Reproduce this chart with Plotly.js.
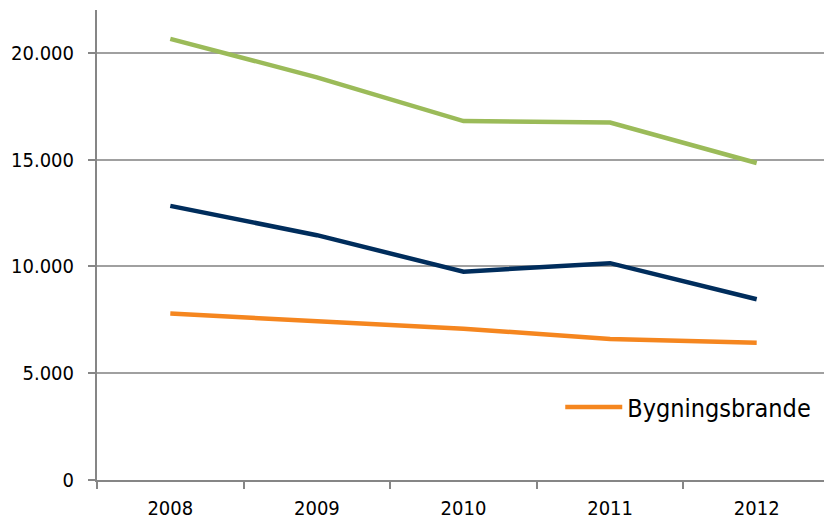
<!DOCTYPE html>
<html>
<head>
<meta charset="utf-8">
<script src="https://cdn.plot.ly/plotly-3.0.1.min.js"></script>
<style>
  html, body { margin: 0; padding: 0; background: #ffffff; overflow: hidden; }
  #chart { width: 832px; height: 519px; }
</style>
</head>
<body>
<div id="chart"></div>
<script>
// Years on the category axis
const years = ['2008', '2009', '2010', '2011', '2012'];

// Yearly counts per series
const seriesGreen = [20650, 18850, 16800, 16730, 14840];
const seriesNavy = [12830, 11460, 9750, 10150, 8460];
const bygningsbrande = [7790, 7410, 7080, 6600, 6420];

// Y axis tick values
const yTicks = [0, 5000, 10000, 15000, 20000];

const FONT = "'DejaVu Sans Condensed', 'DejaVu Sans', sans-serif";
const GRID = '#a0a0a0';

const traces = [
  {
    x: years, y: seriesGreen, type: 'scatter', mode: 'lines',
    name: 'Serie A', showlegend: false,
    line: { color: '#9bbb59', width: 4.5 }
  },
  {
    x: years, y: seriesNavy, type: 'scatter', mode: 'lines',
    name: 'Serie B', showlegend: false,
    line: { color: '#002d5c', width: 4.5 }
  },
  {
    x: years, y: bygningsbrande, type: 'scatter', mode: 'lines',
    name: 'Bygningsbrande', showlegend: true,
    line: { color: '#f5861f', width: 4.5 }
  }
];

const layout = {
  width: 832,
  height: 519,
  margin: { l: 97, r: 2, t: 10, b: 39 },
  paper_bgcolor: '#ffffff',
  plot_bgcolor: '#ffffff',
  separators: ',.',
  font: { family: FONT, size: 20, color: '#000000' },
  showlegend: true,
  legend: {
    x: 0.632, y: 0.155, xanchor: 'left', yanchor: 'middle',
    bgcolor: 'rgba(0,0,0,0)',
    font: { family: FONT, size: 25, color: '#000000' },
    itemwidth: 57
  },
  xaxis: {
    type: 'category',
    range: [-0.5, 4.5],
    showgrid: false,
    showline: true, linecolor: '#868686', linewidth: 2,
    ticks: 'outside', tickson: 'boundaries', ticklen: 7, tickwidth: 2, tickcolor: '#868686',
    ticklabelstandoff: 9,
    tickfont: { family: FONT, size: 20 },
    zeroline: false,
    fixedrange: true
  },
  yaxis: {
    range: [0, 22000],
    tickmode: 'array', tickvals: yTicks,
    tickformat: ',',
    showgrid: true, gridcolor: GRID, gridwidth: 2,
    showline: true, linecolor: '#868686', linewidth: 2,
    ticks: 'outside', ticklen: 7, tickwidth: 2, tickcolor: '#868686',
    ticklabelstandoff: 10,
    tickfont: { family: FONT, size: 20 },
    zeroline: false,
    fixedrange: true
  }
};

Plotly.newPlot('chart', traces, layout, { displayModeBar: false, staticPlot: true });
</script>
</body>
</html>
